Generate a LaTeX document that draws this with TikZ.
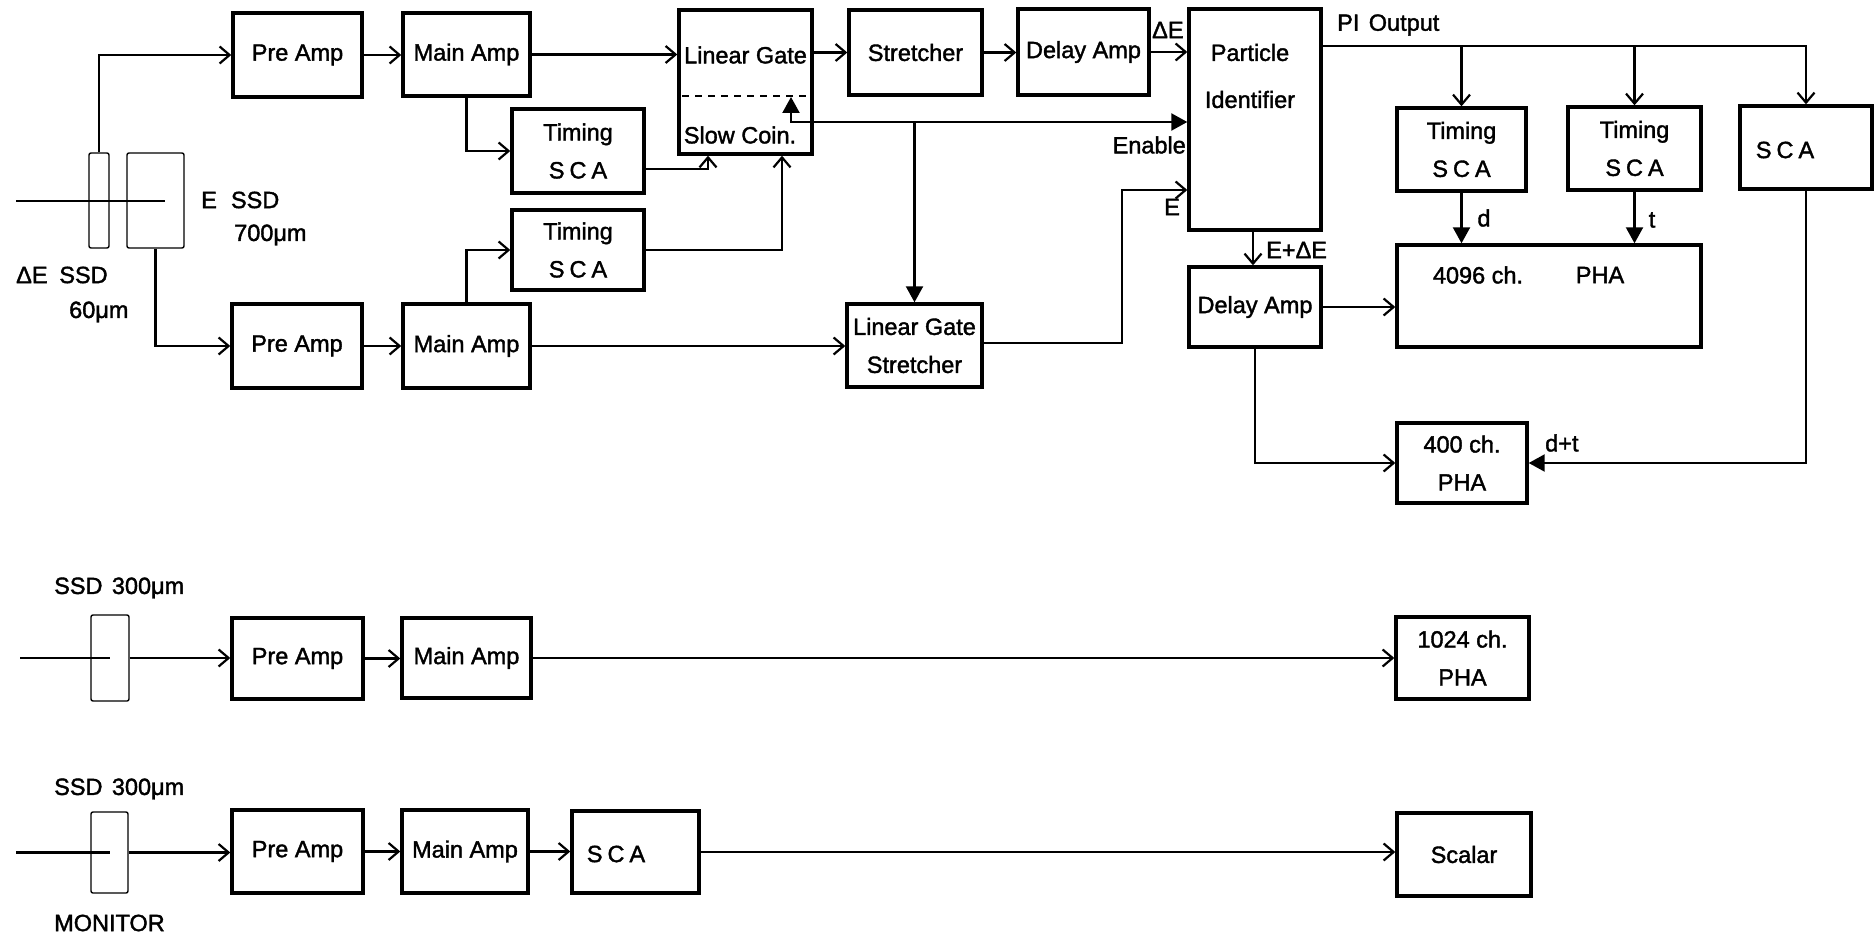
\documentclass[tikz,border=0pt]{standalone}
\usepackage{fontspec}
\setmainfont{Liberation Sans}[UprightFeatures={FakeBold=1.6}]
\usetikzlibrary{arrows.meta,calc}
\newcommand\labfont{\fontsize{23.5}{38}\selectfont}
\begin{document}
\begin{tikzpicture}[x=1pt,y=-1pt,
  sz/.style 2 args={minimum width=#1pt, minimum height=#2pt},
  box/.style={draw, line width=3.4pt, inner sep=0pt, align=center, font=\labfont},
  det/.style={draw, line width=1.4pt, rounded corners=2pt, inner sep=0pt},
  txt/.style={inner sep=0pt, font=\labfont, align=center},
  conn/.style={line width=2.2pt},
  oa/.style={conn, -{Straight Barb[length=10pt,width=17pt,line width=2.2pt]}},
  fa/.style={conn, -{Triangle[length=16pt,width=17pt]}},
  ]
\useasboundingbox (0,0) rectangle (1876,939);
\fill[white] (0,0) rectangle (1876,939);

% --- boxes, first chain
\node[box, sz={129}{84}] (preA) at (297.5,55) {Pre Amp};
\node[box, sz={127}{83}] (mainA) at (466.5,54.5) {Main Amp};
\node[box, sz={133}{144}] (lg) at (745.5,82) {};
\node[txt] at (745.5,55) {Linear Gate};
\node[txt] at (740,135) {Slow Coin.};
\draw[line width=1.8pt, dash pattern=on 7pt off 6pt] (682,96) -- (809,96);
\node[box, sz={133}{85}] (str) at (915.5,52.5) {Stretcher};
\node[box, sz={131}{86}] (dly) at (1083.5,52) {Delay Amp};
\node[box, sz={132}{221}] (pi) at (1255,119.5) {};
\node[txt, font={\fontsize{23.5}{47}\selectfont}] at (1250,76) {Particle\\Identifier};
\node[box, sz={132}{84}] (ts1) at (578,151) {Timing\\S\kern5pt C\kern5pt A};
\node[box, sz={132}{80}] (ts2) at (578,250) {Timing\\S\kern5pt C\kern5pt A};
\node[box, sz={130}{84}] (preB) at (297,346) {Pre Amp};
\node[box, sz={127}{84}] (mainB) at (466.5,346) {Main Amp};
\node[box, sz={135}{83}] (lgs) at (914.5,345.5) {Linear Gate\\Stretcher};
\node[box, sz={129}{83}] (ts3) at (1461.5,149.5) {Timing\\S\kern5pt C\kern5pt A};
\node[box, sz={133}{83}] (ts4) at (1634.5,148.5) {Timing\\S\kern5pt C\kern5pt A};
\node[box, sz={132}{83}] (sca) at (1806,147.5) {};
\node[txt] at (1785,150) {S\kern5pt C\kern5pt A};
\node[box, sz={304}{102}] (pha) at (1549,296) {};
\node[txt] at (1478,275) {4096 ch.};
\node[txt] at (1600,275) {PHA};
\node[box, sz={132}{80}] (dly2) at (1255,307) {Delay Amp};
\node[box, sz={130}{80}] (phb) at (1462,463) {400 ch.\\PHA};

% --- detectors
\node[det, sz={20}{95}] (dE) at (99,200.5) {};
\node[det, sz={57}{95}] (Ed) at (155.5,200.5) {};
\node[det, sz={38}{86}] (s1) at (110,658) {};
\node[det, sz={37}{81}] (s2) at (109.5,852.5) {};

% --- lower chains
\node[box, sz={131}{81}] (preC) at (297.5,658.5) {Pre Amp};
\node[box, sz={129}{80}] (mainC) at (466.5,658) {Main Amp};
\node[box, sz={133}{82}] (phc) at (1462.5,658) {1024 ch.\\PHA};
\node[box, sz={131}{83}] (preD) at (297.5,851.5) {Pre Amp};
\node[box, sz={126}{83}] (mainD) at (465,851.5) {Main Amp};
\node[box, sz={127}{82}] (scaD) at (635.5,852) {};
\node[txt] at (616,854) {S\kern5pt C\kern5pt A};
\node[box, sz={134}{83}] (scal) at (1464,854.5) {Scalar};

% --- labels
\node[txt, anchor=west] at (201,200) {E\hspace{0.6em}SSD};
\node[txt, anchor=west] at (234,235) {700μm};
\node[txt, anchor=west] at (16,275) {ΔE\hspace{0.5em}SSD};
\node[txt, anchor=west] at (69,312) {60μm};
\node[txt, anchor=west] at (54,588) {SSD\hspace{0.4em}300μm};
\node[txt, anchor=west] at (54,789) {SSD\hspace{0.4em}300μm};
\node[txt, anchor=west] at (54,923) {MONITOR};
\node[txt, anchor=west] at (1337,25) {PI\hspace{0.4em}Output};
\node[txt, anchor=west] at (1152,30) {ΔE};
\node[txt, anchor=east] at (1186,145) {Enable};
\node[txt] at (1172,207) {E};
\node[txt, anchor=west] at (1266,250) {E+ΔE};
\node[txt] at (1484,218) {d};
\node[txt] at (1652,220) {t};
\node[txt, anchor=west] at (1545,443) {d+t};

% --- connectors, first chain
\coordinate (b1) at (16,201);
\coordinate (b1e) at (165,201);
\draw[conn] (b1) -- (b1e);
\draw[oa] (dE.north) |- (preA.west);
\draw[oa] (preA.east) -- (preA.east -| mainA.west);
\draw[oa] (mainA.east) -- (mainA.east -| lg.west);
\draw[oa] (lg.east |- str.west) -- (str.west);
\draw[oa] (str.east) -- (str.east -| dly.west);
\draw[oa] (dly.east) -- (dly.east -| pi.west);
\draw[oa] (mainA.south) |- (ts1.west);
\coordinate (c1) at ($(lg.south)+(-37.5,0)$);
\coordinate (c2) at ($(lg.south)+(36.5,0)$);
\draw[oa] ($(ts1.east)+(0,18)$) -| (c1);
\draw[oa] (mainB.north) |- (ts2.west);
\draw[oa] (ts2.east) -| (c2);
\coordinate (sc) at (791,122);
\coordinate (sct) at (791,97);
\draw[conn, {Triangle[length=16pt,width=17pt]}-{Triangle[length=16pt,width=17pt]}] (sct) -- (sc) -- (sc -| pi.west);
\draw[fa] (sc -| lgs.north) -- (lgs.north);
\draw[oa] (Ed.south) |- (preB.west);
\draw[oa] (preB.east) -- (preB.east -| mainB.west);
\draw[oa] (mainB.east) -- (mainB.east -| lgs.west);
\coordinate (ej) at (1122,343);
\draw[oa] (lgs.east |- ej) -- (ej) |- ($(pi.west)+(0,70.5)$);

% --- PI outputs
\coordinate (po) at ($(pi.north east)+(0,39)$);
\draw[oa] (po) -| (sca.north);
\draw[oa] (po -| ts3.north) -- (ts3.north);
\draw[oa] (po -| ts4.north) -- (ts4.north);
\draw[oa] ($(pi.south)+(-2,0)$) -- ($(dly2.north)+(-2,0)$);
\draw[fa] (ts3.south) -- (ts3.south |- pha.north);
\draw[fa] (ts4.south) -- (ts4.south |- pha.north);
\draw[oa] (dly2.east) -- (dly2.east -| pha.west);
\draw[oa] (dly2.south) |- (phb.west);
\draw[fa] (sca.south) |- (phb.east);

% --- lower chains
\coordinate (b2) at (20,658);
\draw[conn] (b2) -- (s1.center);
\draw[oa] (s1.east) -- (s1.east -| preC.west);
\draw[oa] (preC.east) -- (preC.east -| mainC.west);
\draw[oa] (mainC.east) -- (mainC.east -| phc.west);
\coordinate (b3) at (16,852.5);
\draw[conn] (b3) -- (s2.center);
\draw[oa] (s2.east) -- (s2.east -| preD.west);
\draw[oa] (preD.east) -- (preD.east -| mainD.west);
\draw[oa] (mainD.east) -- (mainD.east -| scaD.west);
\draw[oa] (scaD.east) -- (scaD.east -| scal.west);
\end{tikzpicture}
\end{document}
